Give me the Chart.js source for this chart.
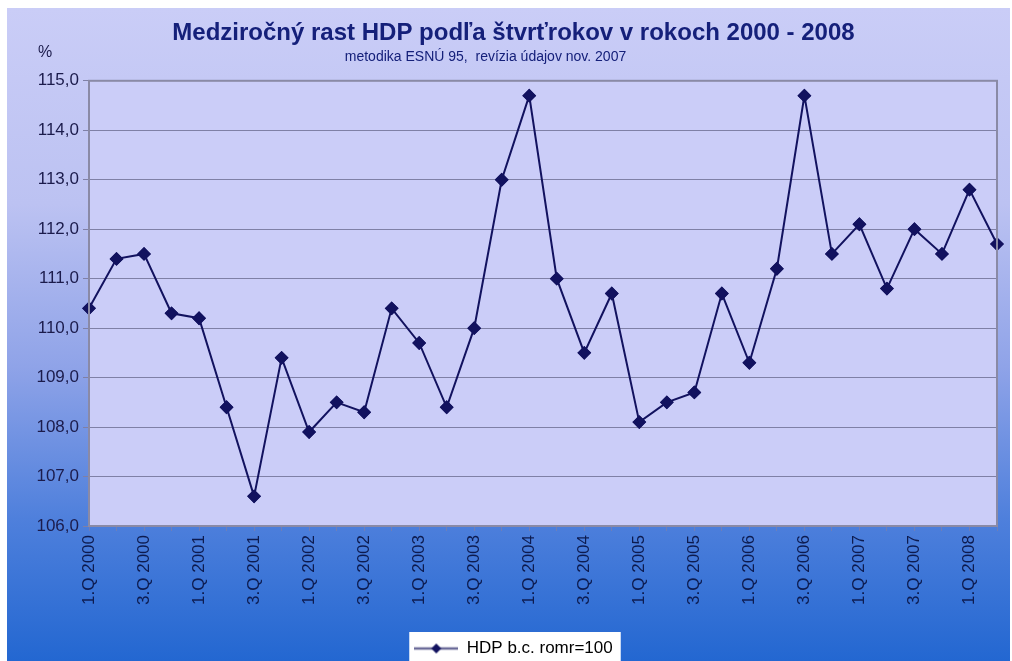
<!DOCTYPE html>
<html>
<head>
<meta charset="utf-8">
<script src="https://cdn.jsdelivr.net/npm/chart.js@4.4.1/dist/chart.umd.min.js"></script>
<style>
  html, body { margin: 0; padding: 0; background: #fff; }
  #wrap { width: 1012px; height: 661px; position: relative; }
</style>
</head>
<body>
<div id="wrap"><canvas id="gdp"></canvas></div>
<script>
const quarters = [
  "1.Q 2000", "2.Q 2000", "3.Q 2000", "4.Q 2000",
  "1.Q 2001", "2.Q 2001", "3.Q 2001", "4.Q 2001",
  "1.Q 2002", "2.Q 2002", "3.Q 2002", "4.Q 2002",
  "1.Q 2003", "2.Q 2003", "3.Q 2003", "4.Q 2003",
  "1.Q 2004", "2.Q 2004", "3.Q 2004", "4.Q 2004",
  "1.Q 2005", "2.Q 2005", "3.Q 2005", "4.Q 2005",
  "1.Q 2006", "2.Q 2006", "3.Q 2006", "4.Q 2006",
  "1.Q 2007", "2.Q 2007", "3.Q 2007", "4.Q 2007",
  "1.Q 2008", "2.Q 2008",
];

const gdpGrowth = [
  110.4, 111.4, 111.5, 110.3,
  110.2, 108.4, 106.6, 109.4,
  107.9, 108.5, 108.3, 110.4,
  109.7, 108.4, 110.0, 113.0,
  114.7, 111.0, 109.5, 110.7,
  108.1, 108.5, 108.7, 110.7,
  109.3, 111.2, 114.7, 111.5,
  112.1, 110.8, 112.0, 111.5,
  112.8, 111.7,
];

const yTicks = [106, 107, 108, 109, 110, 111, 112, 113, 114, 115];

const TITLE = "Medziročný rast HDP podľa štvrťrokov v rokoch 2000 - 2008";
const SUBTITLE = "metodika ESNÚ 95,  revízia údajov nov. 2007";

const NAVY = "#12125f";
const FONT = "'Liberation Sans', Arial, sans-serif";

// legend marker: line with a diamond in the middle
function legendMarker() {
  const c = document.createElement("canvas");
  c.width = 44; c.height = 12;
  const g = c.getContext("2d");
  g.strokeStyle = "#6b6b99";
  g.lineWidth = 2.5;
  g.beginPath(); g.moveTo(0, 6); g.lineTo(44, 6); g.stroke();
  g.fillStyle = NAVY;
  g.beginPath(); g.moveTo(22, 1); g.lineTo(27, 6); g.lineTo(22, 11); g.lineTo(17, 6); g.closePath(); g.fill();
  return c;
}

const backdrop = {
  id: "backdrop",
  afterLayout(chart) {
    // subtitle sits a bit left of the title's centre
    const sub = chart.boxes.find(b => b.options && b.options.text === SUBTITLE);
    if (sub) sub.right -= 56;
  },
  beforeDraw(chart) {
    const { ctx, width, height, chartArea: a } = chart;
    ctx.save();
    ctx.fillStyle = "#fff";
    ctx.fillRect(0, 0, width, height);
    const grad = ctx.createLinearGradient(0, 8, 0, height);
    grad.addColorStop(0, "#cacdf7");
    grad.addColorStop(0.3, "#bcc2f2");
    grad.addColorStop(0.55, "#8fa3e8");
    grad.addColorStop(0.78, "#4f80dc");
    grad.addColorStop(1, "#2367d1");
    ctx.fillStyle = grad;
    ctx.fillRect(7, 8, width - 9, height - 8);
    // plot area
    ctx.fillStyle = "#cbcdf8";
    ctx.fillRect(a.left, a.top, a.right - a.left, a.bottom - a.top);
    // legend box
    const hb = chart.legend.legendHitBoxes[0];
    if (hb) {
      ctx.fillStyle = "#fff";
      ctx.fillRect(hb.left - 5, hb.top - 8, hb.width + 13, height);
    }
    ctx.restore();
  },
  afterDraw(chart) {
    const { ctx, chartArea: a } = chart;
    ctx.save();
    ctx.strokeStyle = "#8a8aa6";
    ctx.lineWidth = 2;
    ctx.strokeRect(a.left, a.top, a.right - a.left, a.bottom - a.top);
    ctx.fillStyle = "#1b1b4b";
    ctx.font = "16px " + FONT;
    ctx.textAlign = "left";
    ctx.textBaseline = "middle";
    ctx.fillText("%", 38, 53);
    ctx.restore();
  },
  afterDatasetsDraw(chart) {
    // redraw markers on top of the plot border
    chart.getDatasetMeta(0).data.forEach(pt => pt.draw(chart.ctx, chart.chartArea));
  },
};

new Chart(document.getElementById("gdp"), {
  type: "line",
  data: {
    labels: quarters,
    datasets: [{
      label: "HDP b.c. romr=100",
      data: gdpGrowth,
      borderColor: NAVY,
      borderWidth: 2,
      backgroundColor: NAVY,
      pointStyle: "rectRot",
      pointRadius: 5.5,
      pointBackgroundColor: NAVY,
      pointBorderColor: NAVY,
      tension: 0,
      clip: false,
    }],
  },
  options: {
    responsive: true,
    maintainAspectRatio: false,
    animation: false,
    layout: { padding: { left: 30, right: 15, top: 8, bottom: -6 } },
    plugins: {
      title: {
        display: true,
        text: TITLE,
        color: "#15207a",
        font: { family: FONT, size: 24, weight: "bold", lineHeight: 1 },
        padding: { top: 13, bottom: 0 },
      },
      subtitle: {
        display: true,
        text: SUBTITLE,
        color: "#15207a",
        font: { family: FONT, size: 14 },
        padding: { top: 4, bottom: 15 },
      },
      legend: {
        position: "bottom",
        labels: {
          color: "#1a1a2a",
          font: { family: FONT, size: 17 },
          usePointStyle: true,
          pointStyleWidth: 44,
          padding: 10,
          generateLabels(chart) {
            const ds = chart.data.datasets[0];
            return [{ text: ds.label, pointStyle: legendMarker(), fillStyle: NAVY, strokeStyle: NAVY, lineWidth: 0, datasetIndex: 0 }];
          },
        },
      },
      tooltip: { enabled: false },
    },
    scales: {
      x: {
        offset: false,
        grid: { display: true, drawOnChartArea: false, drawTicks: true, tickLength: 5, color: "#6f7fb8" },
        border: { display: false },
        ticks: {
          autoSkip: false,
          maxRotation: 90,
          minRotation: 90,
          color: "#0d1b4f",
          font: { family: FONT, size: 17 },
          padding: 4,
          callback(value, index) { return index % 2 === 0 ? quarters[index] : ""; },
        },
        afterFit(scale) { scale.height = 104; scale.paddingRight = 0; scale.paddingLeft = 0; },
      },
      y: {
        min: 106,
        max: 115,
        afterBuildTicks(scale) { scale.ticks = yTicks.map(v => ({ value: v })); },
        grid: { color: "#7f80a6", lineWidth: 1, tickLength: 6, drawTicks: true },
        border: { display: false },
        ticks: {
          color: "#1b1b4b",
          font: { family: FONT, size: 17 },
          padding: 4,
          callback(v) { return v.toFixed(1).replace(".", ","); },
        },
        afterFit(scale) { scale.width = 59; },
      },
    },
  },
  plugins: [backdrop],
});
</script>
</body>
</html>
